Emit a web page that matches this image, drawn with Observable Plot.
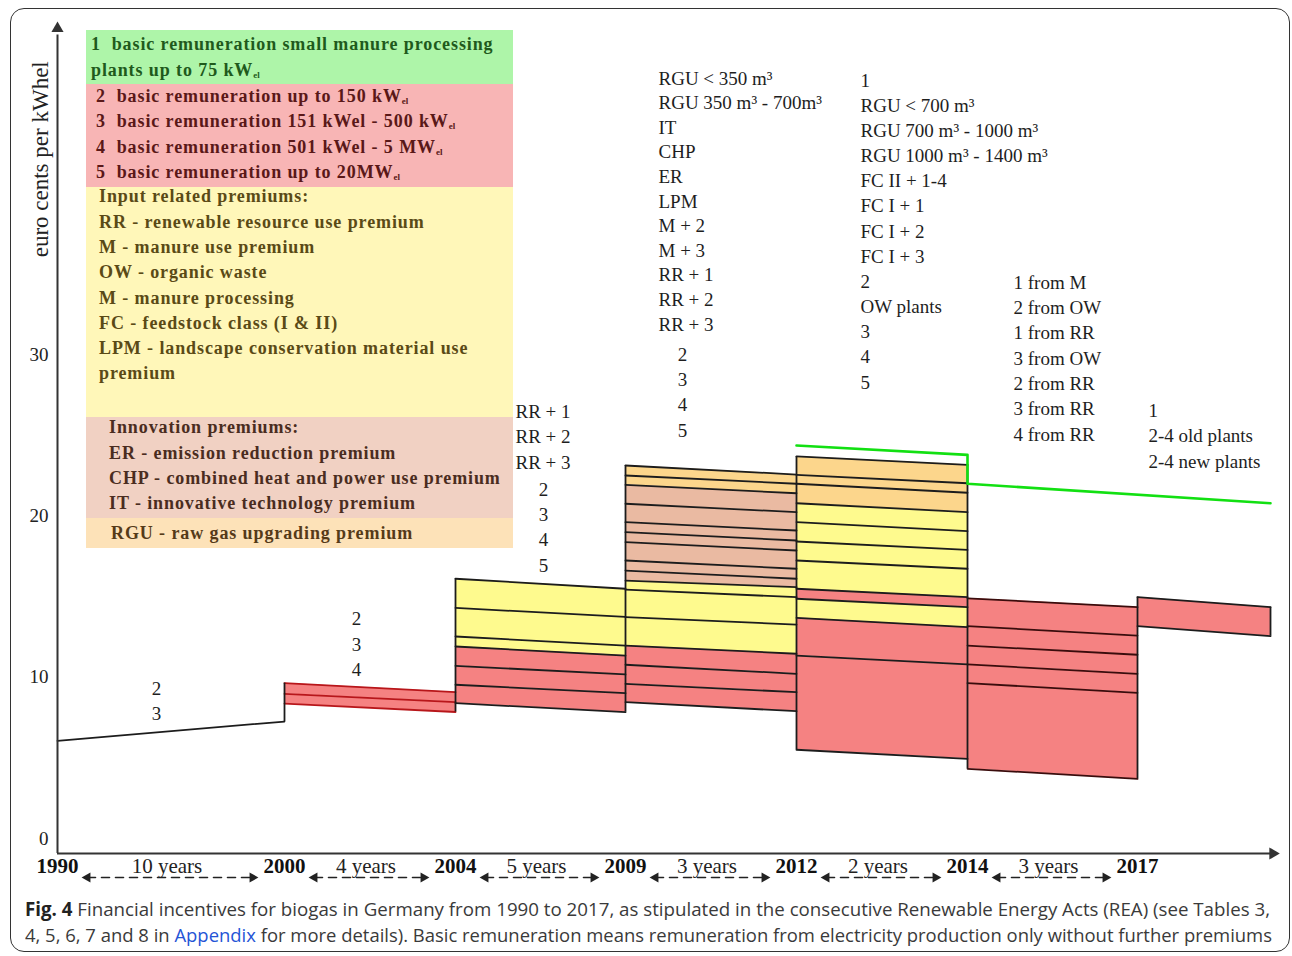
<!DOCTYPE html>
<html><head><meta charset="utf-8">
<script src="https://cdn.jsdelivr.net/npm/d3@7"></script>
<script src="https://cdn.jsdelivr.net/npm/@observablehq/plot@0.6"></script>
<style>
body{margin:0;background:#fff;width:1292px;height:956px;position:relative;overflow:hidden}
#frame{position:absolute;left:10px;top:8px;width:1280px;height:944px;border:1.6px solid #333;border-radius:14px;box-sizing:border-box}
#chart{position:absolute;left:0;top:0}
#legend{position:absolute;left:86px;top:30px;width:427px;font-family:"Liberation Serif",serif;font-weight:bold;font-size:18px;letter-spacing:0.9px}
#legend .sec{position:absolute;left:0;width:427px;overflow:hidden}
#legend .ln{height:25.3px;line-height:25.3px;white-space:pre;position:relative}
#legend sub{font-size:9px;vertical-align:-2px;letter-spacing:0}
#caption{position:absolute;left:25px;top:896px;font-family:"Open Sans",sans-serif;font-size:19px;color:#3a3a3a;white-space:nowrap}
#caption .capline{display:inline-block;transform-origin:0 50%;height:26px;line-height:26px}
#caption b{color:#222}
#caption .link{color:#2454d6}
</style></head>
<body>
<div id="frame"></div>
<div id="chart"></div>
<div id="legend"></div>
<div id="caption">
<div><span class="capline" data-w="1245"><b>Fig. 4</b> Financial incentives for biogas in Germany from 1990 to 2017, as stipulated in the consecutive Renewable Energy Acts (REA) (see Tables 3,</span></div>
<div><span class="capline" data-w="1247">4, 5, 6, 7 and 8 in <span class="link">Appendix</span> for more details). Basic remuneration means remuneration from electricity production only without further premiums</span></div>
</div>
<script>
// ---------------- data ----------------
const years = [1990, 2000, 2004, 2009, 2012, 2014, 2017];
const chartEnd = 2019;
const yearSpans = ["10 years", "4 years", "5 years", "3 years", "2 years", "3 years"];
const yTicks = [0, 10, 20, 30];

// level lines (euro cents per kWh): [value at period start, value at period end], top to bottom
const levels1990 = [[6.05, 7.25]];
const levels2000 = [[9.63, 9.07], [8.97, 8.45], [8.36, 7.84]];
const levels2004 = [[16.10, 15.48], [14.29, 13.74], [12.52, 11.96], [11.90, 11.34], [10.70, 10.17], [9.53, 9.01], [8.39, 7.83]];
const levels2009 = [[23.12, 22.56], [22.50, 21.99], [21.92, 21.40], [20.75, 20.23], [19.61, 19.09], [18.99, 18.47], [18.37, 17.85], [17.23, 16.72], [16.61, 16.10], [15.99, 15.58], [15.42, 14.96], [13.72, 13.26], [11.96, 11.45], [10.77, 10.21], [9.59, 9.07], [8.45, 7.89]];
const levels2012 = [[23.68, 23.16], [22.54, 22.02], [21.99, 21.43], [20.78, 20.23], [19.61, 19.05], [18.41, 17.89], [17.23, 16.72], [15.48, 14.96], [14.86, 14.34], [13.68, 13.10], [11.34, 10.79], [5.50, 4.94]];
const levels2014 = [[14.89, 14.34], [13.16, 12.58], [11.96, 11.39], [10.79, 10.21], [9.63, 9.03], [4.32, 3.69]];
const levels2017 = [[14.96, 14.34], [13.16, 12.54]];
// small manure plants (category 1), [year, cents]
const small75kW = [[2012, 24.36], [2014, 23.78], [2014, 21.99], [2019, 20.78]];

// band kind between consecutive level lines
const bands1990 = [];
const bands2000 = ["basic", "basic"];
const bands2004 = ["input", "input", "input", "basic", "basic", "basic"];
const bands2009 = ["gas", "gas", "innovation", "innovation", "innovation", "innovation", "innovation", "innovation", "innovation", "input", "input", "input", "basic", "basic", "basic"];
const bands2012 = ["gas", "gas", "gas", "input", "input", "input", "input", "basic", "input", "basic", "basic"];
const bands2014 = ["basic", "basic", "basic", "basic", "basic"];
const bands2017 = ["basic"];

// level labels
const labels1990 = ["2", "3"];
const labels2000 = ["2", "3", "4"];
const labels2004a = ["RR + 1", "RR + 2", "RR + 3"];
const labels2004b = ["2", "3", "4", "5"];
const labels2009a = ["RGU < 350 m³", "RGU 350 m³ - 700m³", "IT", "CHP", "ER", "LPM", "M + 2", "M + 3", "RR + 1", "RR + 2", "RR + 3"];
const labels2009b = ["2", "3", "4", "5"];
const labels2012 = ["1", "RGU < 700 m³", "RGU 700 m³ - 1000 m³", "RGU 1000 m³ - 1400 m³", "FC II + 1-4", "FC I + 1", "FC I + 2", "FC I + 3", "2", "OW plants", "3", "4", "5"];
const labels2014 = ["1 from M", "2 from OW", "1 from RR", "3 from OW", "2 from RR", "3 from RR", "4 from RR"];
const labels2017 = ["1", "2-4 old plants", "2-4 new plants"];

// legend
const legendGreen = ["1  basic remuneration small manure processing", "plants up to 75 kW_el"];
const legendRed = ["2  basic remuneration up to 150 kW_el", "3  basic remuneration 151 kWel - 500 kW_el", "4  basic remuneration 501 kWel - 5 MW_el", "5  basic remuneration up to 20MW_el"];
const legendYellow = ["Input related premiums:", "RR - renewable resource use premium", "M - manure use premium", "OW - organic waste", "M - manure processing", "FC - feedstock class (I & II)", "LPM - landscape conservation material use", "premium"];
const legendBrown = ["Innovation premiums:", "ER - emission reduction premium", "CHP - combined heat and power use premium", "IT - innovative technology premium"];
const legendOrange = ["RGU - raw gas upgrading premium"];

// ---------------- styles ----------------
const fillColor = {basic: "#f58282", input: "#fefa8e", innovation: "#eabaa2", gas: "#fcd68c"};
const dark = "#1c1c1c";

const periods = [
  {start: 1990, end: 2000, levels: levels1990, bands: bands1990, stroke: dark},
  {start: 2000, end: 2004, levels: levels2000, bands: bands2000, stroke: "#b8161a"},
  {start: 2004, end: 2009, levels: levels2004, bands: bands2004, stroke: dark},
  {start: 2009, end: 2012, levels: levels2009, bands: bands2009, stroke: dark},
  {start: 2012, end: 2014, levels: levels2012, bands: bands2012, stroke: dark},
  {start: 2014, end: 2017, levels: levels2014, bands: bands2014, stroke: "#3a0c0c"},
  {start: 2017, end: chartEnd, levels: levels2017, bands: bands2017, stroke: dark}
];

const areaRows = [], lineRows = [], edgeMap = new Map();
periods.forEach((p, pi) => {
  p.bands.forEach((kind, bi) => {
    const id = pi + "-" + bi, top = p.levels[bi], bot = p.levels[bi + 1];
    areaRows.push({id, fill: fillColor[kind], x: p.start, y1: bot[0], y2: top[0]});
    areaRows.push({id, fill: fillColor[kind], x: p.end, y1: bot[1], y2: top[1]});
  });
  p.levels.forEach((lv, li) => {
    const id = pi + "-" + li;
    lineRows.push({id, stroke: p.stroke, x: p.start, y: lv[0]});
    lineRows.push({id, stroke: p.stroke, x: p.end, y: lv[1]});
  });
  [[p.start, 0], [p.end, 1]].forEach(([x, k]) => {
    const vals = p.levels.map(l => l[k]);
    const e = edgeMap.get(x) || {x, lo: Infinity, hi: -Infinity};
    e.lo = Math.min(e.lo, ...vals); e.hi = Math.max(e.hi, ...vals);
    edgeMap.set(x, e);
  });
});
edgeMap.delete(1990);
const edges = [...edgeMap.values()];

const spans = yearSpans.map((t, i) => ({text: t, start: years[i], end: years[i + 1], mid: (years[i] + years[i + 1]) / 2}));

const xAxisY = -0.93, yAxisTop = 50.4, xAxisEnd = 2019.08;
const serif = "Liberation Serif";

const labelColumns = [
  {x: 1990, dx: 99, anchor: "middle", top: 9.30, step: 1.55, labels: labels1990},
  {x: 2000, dx: 72, anchor: "middle", top: 13.64, step: 1.61, labels: labels2000},
  {x: 2004, dx: 60, anchor: "start", top: 26.47, step: 1.58, labels: labels2004a},
  {x: 2004, dx: 88, anchor: "middle", top: 21.63, step: 1.57, labels: labels2004b},
  {x: 2009, dx: 33, anchor: "start", top: 47.11, step: 1.525, labels: labels2009a},
  {x: 2009, dx: 57, anchor: "middle", top: 30.0, step: 1.57, labels: labels2009b},
  {x: 2012, dx: 64, anchor: "start", top: 46.98, step: 1.56, labels: labels2012},
  {x: 2014, dx: 46, anchor: "start", top: 34.46, step: 1.57, labels: labels2014},
  {x: 2017, dx: 11, anchor: "start", top: 26.53, step: 1.58, labels: labels2017}
];
const labelMarks = labelColumns.map(c => Plot.text(c.labels, {
  x: () => c.x, y: (d, i) => c.top - i * c.step, text: d => d, dx: c.dx,
  textAnchor: c.anchor, fontFamily: serif, fontSize: 19, fill: "#1e1e1e"
}));

const chart = Plot.plot({
  width: 1292, height: 892,
  margin: 0,
  x: {type: "linear", domain: [...years, chartEnd], range: [57, 284, 455, 625, 796, 967, 1137, 1270], axis: null},
  y: {domain: [0, 30], range: [838, 354], axis: null},
  color: {type: "identity"},
  style: {background: "transparent", overflow: "visible", fontFamily: serif},
  marks: [
    Plot.areaY(areaRows, {x: "x", y1: "y1", y2: "y2", z: "id", fill: "fill", curve: "linear"}),
    Plot.line(lineRows, {x: "x", y: "y", z: "id", stroke: "stroke", strokeWidth: 1.8}),
    Plot.ruleX(edges, {x: "x", y1: "lo", y2: "hi", stroke: dark, strokeWidth: 1.8}),
    Plot.line(small75kW, {x: d => d[0], y: d => d[1], stroke: "#12e012", strokeWidth: 2.6}),
    // axes
    Plot.ruleX([1990], {y1: xAxisY, y2: yAxisTop - 0.6, stroke: "#333", strokeWidth: 2}),
    Plot.dot([1990], {x: d => d, y: yAxisTop, symbol: "triangle", r: 4.5, fill: "#333", stroke: "none", dy: 3}),
    Plot.ruleY([xAxisY], {x1: 1990, x2: xAxisEnd, stroke: "#333", strokeWidth: 2}),
    Plot.dot([xAxisEnd], {x: d => d, y: xAxisY, symbol: "triangle", rotate: 90, r: 4.5, fill: "#333", stroke: "none", dx: -3}),
    Plot.text(yTicks, {x: 1990, y: d => d, text: d => String(d), dx: -9, textAnchor: "end", fontFamily: serif, fontSize: 19, fill: "#222"}),
    Plot.text(["euro cents per kWhel"], {x: 1990, y: 42.1, text: d => d, dx: -17, rotate: -90, fontFamily: serif, fontSize: 23, fill: "#222"}),
    Plot.text(years, {x: d => d, y: xAxisY, text: d => String(d), dy: 13, fontFamily: serif, fontWeight: "bold", fontSize: 21, fill: "#111"}),
    Plot.text(spans, {x: "mid", y: xAxisY, text: "text", dx: -4, dy: 13, fontFamily: serif, fontSize: 21, fill: "#222"}),
    Plot.arrow(spans, {x1: "start", x2: "end", y1: xAxisY, y2: xAxisY, dy: 24, insetStart: 30, insetEnd: 32, headLength: 0, stroke: "#222", strokeWidth: 1.6, strokeDasharray: "8 6"}),
    Plot.dot(spans, {x: "start", y: xAxisY, dx: 30, dy: 24, symbol: "triangle", rotate: -90, r: 3.8, fill: "#222", stroke: "none"}),
    Plot.dot(spans, {x: "end", y: xAxisY, dx: -32, dy: 24, symbol: "triangle", rotate: 90, r: 3.8, fill: "#222", stroke: "none"}),
    ...labelMarks
  ]
});
document.getElementById("chart").appendChild(chart);

// legend box
const legendSections = [
  {lines: legendGreen, bg: "#aef5a9", color: "#1f5a1c", top: 0, height: 54, indent: 5, shift: 2.4},
  {lines: legendRed, bg: "#f8b5b5", color: "#5a1818", top: 54, height: 103, indent: 10, shift: 0},
  {lines: legendYellow, bg: "#fff7b9", color: "#5a4a16", top: 157, height: 230, indent: 13, shift: -2.6},
  {lines: legendBrown, bg: "#f1d1c3", color: "#4a2c20", top: 387, height: 101, indent: 23, shift: -1.6},
  {lines: legendOrange, bg: "#fde2b8", color: "#553a18", top: 488, height: 30, indent: 25, shift: 2.5}
];
const legend = document.getElementById("legend");
legendSections.forEach(s => {
  const sec = document.createElement("div");
  sec.className = "sec";
  Object.assign(sec.style, {top: s.top + "px", height: s.height + "px", background: s.bg, color: s.color});
  const inner = document.createElement("div");
  Object.assign(inner.style, {position: "relative", top: s.shift + "px", paddingLeft: s.indent + "px"});
  s.lines.forEach(t => {
    const ln = document.createElement("div");
    ln.className = "ln";
    ln.innerHTML = t.replace(/&/g, "&amp;").replace(/_el/g, "<sub>el</sub>");
    inner.appendChild(ln);
  });
  sec.appendChild(inner);
  legend.appendChild(sec);
});

// fit caption lines
document.querySelectorAll(".capline").forEach(el => {
  const w = el.getBoundingClientRect().width;
  el.style.transform = "scaleX(" + (+el.dataset.w / w) + ")";
});
</script>
</body></html>
